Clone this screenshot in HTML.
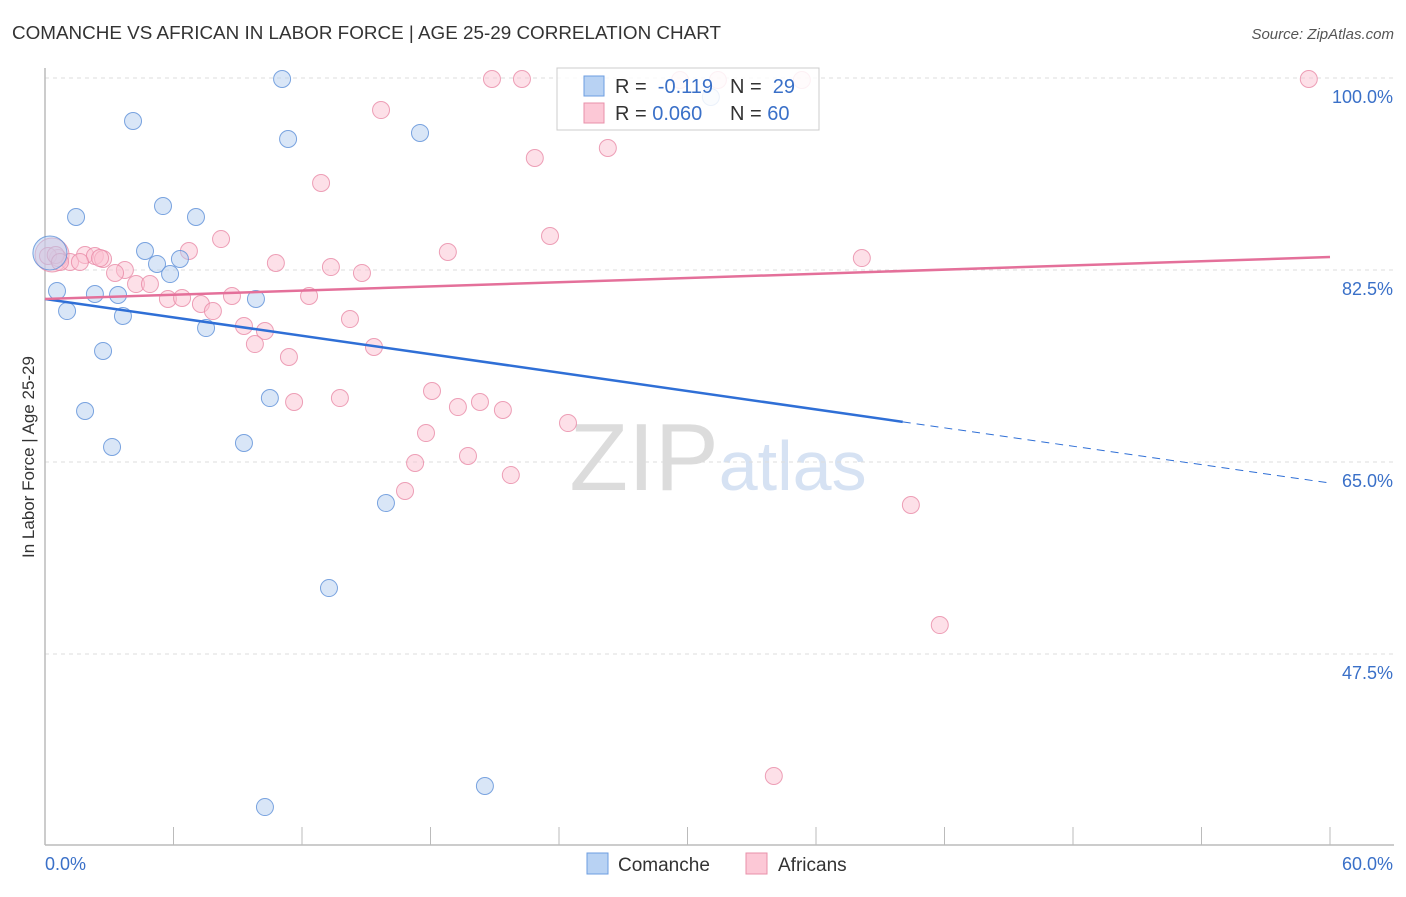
<!DOCTYPE html>
<html><head><meta charset="utf-8"><style>
body{margin:0;background:#fff;font-family:"Liberation Sans",sans-serif;}
svg text{font-family:"Liberation Sans",sans-serif;}
</style></head><body>
<svg id="chart" width="1406" height="892" xmlns="http://www.w3.org/2000/svg">
<text x="12" y="39" font-size="18" fill="#333" textLength="709" lengthAdjust="spacingAndGlyphs">COMANCHE VS AFRICAN IN LABOR FORCE | AGE 25-29 CORRELATION CHART</text>
<text x="1394" y="39" font-size="15" fill="#555" text-anchor="end" font-style="italic">Source: ZipAtlas.com</text>
<text transform="translate(34,457) rotate(-90)" font-size="17" fill="#333" text-anchor="middle">In Labor Force | Age 25-29</text>
<text x="718" y="490" font-size="96" text-anchor="middle" fill="#e6e6e6" font-family="Liberation Serif"><tspan fill="#dcdcdc">ZIP</tspan><tspan fill="#d6e2f3" font-family="Liberation Sans" font-size="70">atlas</tspan></text>
<g id="grid"></g><g id="axes"></g><g id="pts"></g><g id="lines"></g>
<g>
<rect x="557" y="68" width="262" height="62" fill="#fff" fill-opacity="0.85" stroke="#ccc"/>
<rect x="584" y="76" width="20" height="20" fill="#b8d2f3" stroke="#6d9ee0"/>
<rect x="584" y="103" width="20" height="20" fill="#fcc8d6" stroke="#e890aa"/>
<text x="615" y="93" font-size="20" fill="#333">R = <tspan fill="#3a70c8">&#160;-0.119</tspan></text>
<text x="730" y="93" font-size="20" fill="#333">N = <tspan fill="#3a70c8">&#160;29</tspan></text>
<text x="615" y="120" font-size="20" fill="#333">R = <tspan fill="#3a70c8">0.060</tspan></text>
<text x="730" y="120" font-size="20" fill="#333">N = <tspan fill="#3a70c8">60</tspan></text>
</g>
<g>
<rect x="587" y="853" width="21" height="21" fill="#b8d2f3" stroke="#6d9ee0"/>
<text x="618" y="871" font-size="19" fill="#333">Comanche</text>
<rect x="746" y="853" width="21" height="21" fill="#fcc8d6" stroke="#e890aa"/>
<text x="778" y="871" font-size="19" fill="#333">Africans</text>
</g>
</svg>
<script>
const yTicks=[100,82.5,65,47.5];
const yTickLabels=["100.0%","82.5%","65.0%","47.5%"];
const xTickLabels=["0.0%","60.0%"];
const comancheX=[11.07,4.11,11.35,17.51,5.51,1.45,7.05,4.67,5.23,5.84,6.30,0.56,2.33,3.41,9.85,1.03,3.64,7.52,2.71,10.50,1.87,9.29,3.13,15.92,13.26,10.27,20.54,31.09,0.23];
const comancheY=[99.91,96.08,94.44,94.99,88.33,87.33,87.33,84.23,83.05,82.13,83.50,80.59,80.31,80.22,79.86,78.76,78.31,77.21,75.12,70.83,69.65,66.73,66.37,61.26,53.51,33.55,35.47,98.27,84.05];
const africansX=[59.01,20.87,22.27,31.42,35.34,15.69,26.28,22.87,12.89,23.58,8.22,18.81,6.72,38.14,0.33,1.17,1.87,2.33,2.71,3.73,3.27,10.78,13.35,14.80,4.25,4.90,5.74,6.40,7.28,7.84,8.73,12.33,14.24,9.29,10.27,9.80,15.36,11.39,18.07,13.77,11.63,20.31,19.28,21.38,24.42,17.79,19.75,17.28,21.75,16.81,40.43,41.78,34.03,0.61,0.14,29.65,0.5,2.57,1.63,0.70];
const africansY=[99.91,99.91,99.91,99.82,99.82,97.08,93.62,92.71,90.43,85.60,85.32,84.14,84.23,83.59,83.87,83.23,83.87,83.78,83.50,82.50,82.23,83.14,82.77,82.23,81.22,81.22,79.86,79.95,79.40,78.76,80.13,80.13,78.03,77.40,76.94,75.75,75.48,74.57,71.47,70.83,70.47,70.47,70.01,69.74,68.55,67.64,65.55,64.91,63.81,62.36,61.08,50.14,36.38,83.59,83.78,99.82,83.87,83.59,83.23,83.23];
const comancheTrend=[79.86,63.08];
const africansTrend=[79.86,83.68];
const X=v=>45+v*(1285/60), Y=v=>462-(v-65)*(192/17.5);
const NS="http://www.w3.org/2000/svg";
function mk(t,a,p){const e=document.createElementNS(NS,t);for(const k in a)e.setAttribute(k,a[k]);p.appendChild(e);return e;}
const grid=document.getElementById('grid'),axes=document.getElementById('axes'),pts=document.getElementById('pts'),lines=document.getElementById('lines');
yTicks.forEach((t,i)=>{
 const l=mk('line',{x1:45,x2:1394,y1:Y(t),y2:Y(t),stroke:'#ddd','stroke-dasharray':'4,4'},grid);
 
 
 const tx=mk('text',{x:1393,y:Y(t)+25,'font-size':18,fill:'#3a70c8','text-anchor':'end'},axes);
 tx.textContent=yTickLabels[i];
 
 
});
const ax=mk('line',{x1:45,x2:1394,y1:845,y2:845,stroke:'#bbb','stroke-width':1.5},axes);


const ay=mk('line',{x1:45,x2:45,y1:68,y2:845,stroke:'#bbb','stroke-width':1.5},axes);


for(let i=0;i<=10;i++){const tk=mk('line',{x1:X(i*6),x2:X(i*6),y1:827,y2:845,stroke:'#bbb'},axes);
 
 }
[[0,'start'],[60,'end']].forEach((d,i)=>{const tx=mk('text',{x:d[0]?1393:45,y:870,'font-size':18,fill:'#3a70c8','text-anchor':d[1]},axes);tx.textContent=xTickLabels[i];
 
 });
function dots(xs,ys,fill,stroke,name,bigIdx){xs.forEach((x,i)=>{const big=(i===bigIdx);
 const c=mk('circle',{cx:X(x),cy:Y(ys[i]),r:big?17:8.5,fill:fill,'fill-opacity':0.5,stroke:stroke,'stroke-opacity':0.8,'stroke-width':1},pts);
 
 });}
dots(africansX,africansY,'#fbc2d2','#e88aa6','africans-point',14);
dots(comancheX,comancheY,'#b4cdf0','#5b8ed8','comanche-point',28);
const cut=40.05;
const cy=x=>comancheTrend[0]+(comancheTrend[1]-comancheTrend[0])*x/60;
const l1=mk('line',{x1:X(0),y1:Y(cy(0)),x2:X(cut),y2:Y(cy(cut)),stroke:'#2f6fd6','stroke-width':2.5},lines);


const l2=mk('line',{x1:X(cut),y1:Y(cy(cut)),x2:X(60),y2:Y(cy(60)),stroke:'#2f6fd6','stroke-width':1,'stroke-dasharray':'8,6'},lines);


const l3=mk('line',{x1:X(0),y1:Y(africansTrend[0]),x2:X(60),y2:Y(africansTrend[1]),stroke:'#e4709a','stroke-width':2.5},lines);


</script>
</body></html>
